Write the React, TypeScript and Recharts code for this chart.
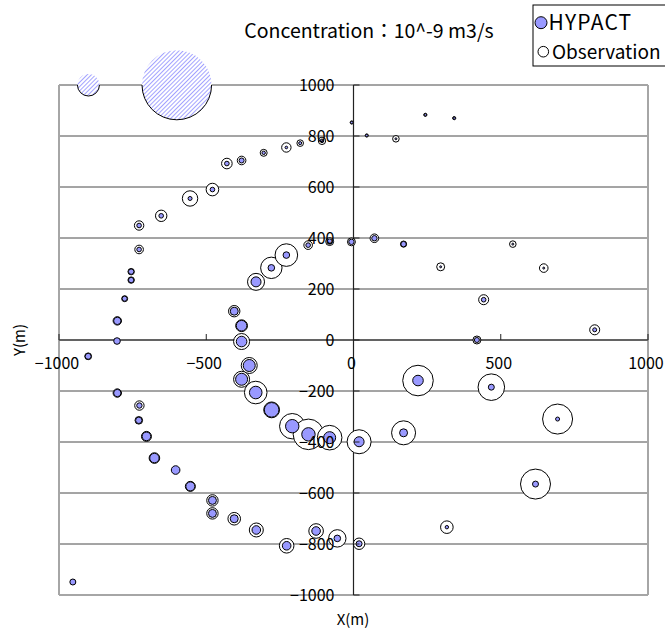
import React from 'react';
import {
  ScatterChart,
  Scatter,
  XAxis,
  YAxis,
  ZAxis,
  ReferenceLine,
  ReferenceDot,
} from 'recharts';

// sampling locations (m)
const locX = [
  -901, -803, -802, -777, -755, -755, -728, -728, -653, -555, -479, -430, -380, -305, -228, -181, -107, -6, 45, 144, 244, 342,
  -331, -279, -228, -154, -81, -7, 71, 170, 296, 541, 646, 442, 419, 819,
  -405, -380, -380, -354, -380, -332, -278, -208, -153, -81, 19, 170, 219, 468, 693, 618, 317,
  -802, -727, -729, -703, -676, -604, -554, -479, -479, -405, -330, -227, -127, -55, 19, -953,
];
const locY = [
  -64, -4, 75, 162, 268, 235, 355, 449, 487, 555, 590, 692, 704, 734, 755, 772, 781, 853, 802, 789, 883, 870,
  228, 283, 333, 372, 386, 385, 399, 376, 287, 376, 282, 158, 0, 40,
  113, 56, -6, -100, -154, -206, -274, -338, -370, -383, -399, -364, -159, -185, -310, -565, -734,
  -208, -257, -315, -378, -463, -510, -574, -629, -680, -701, -745, -807, -749, -778, -799, -949,
];

// concentration, 10^-9 m3/s
const hypact = [
  0.074, 0.09, 0.113, 0.052, 0.06, 0.06, 0.044, 0.044, 0.044, 0.033, 0.044, 0.044, 0.052, 0.024, 0.014, 0.019, 0.027, 0.012, 0.012, 0.008, 0.012, 0.012,
  0.207, 0.09, 0.09, 0.044, 0.06, 0.06, 0.06, 0.06, 0.008, 0.008, 0.008, 0.044, 0.052, 0.033,
  0.132, 0.232, 0.232, 0.298, 0.298, 0.328, 0.44, 0.371, 0.371, 0.298, 0.207, 0.132, 0.232, 0.074, 0.033, 0.074, 0.024,
  0.113, 0.06, 0.085, 0.153, 0.183, 0.153, 0.167, 0.132, 0.132, 0.132, 0.153, 0.153, 0.153, 0.09, 0.074, 0.074,
];
const observation = [
  0.096, 0.052, 0.146, 0.074, 0.085, 0.085, 0.153, 0.183, 0.269, 0.49, 0.328, 0.232, 0.153, 0.101, 0.183, 0.09, 0.113, 0.021, 0.021, 0.09, 0.021, 0.021,
  0.597, 0.946, 1.055, 0.153, 0.132, 0.132, 0.153, 0.079, 0.132, 0.09, 0.153, 0.207, 0.132, 0.207,
  0.269, 0.288, 0.529, 0.529, 0.529, 1.055, 0.516, 1.33, 1.93, 1.25, 1.19, 1.19, 1.93, 1.46, 1.86, 1.86, 0.328,
  0.146, 0.183, 0.119, 0.207, 0.232, 0.101, 0.207, 0.269, 0.269, 0.328, 0.405, 0.44, 0.44, 0.626, 0.269, 0.052,
];

// size reference bubbles (1 and 10)
const refX = [-900, -600];
const refY = [1000, 1000];
const refZ = [1, 10];

const xTicks = [-1000, -500, 0, 500, 1000];
const yTicks = [-1000, -800, -600, -400, -200, 0, 200, 400, 600, 800, 1000];

const hypactData = locX.map((x, i) => ({ x, y: locY[i], z: hypact[i] }));
const obsData = locX.map((x, i) => ({ x, y: locY[i], z: observation[i] }));
const refData = refX.map((x, i) => ({ x, y: refY[i], z: refZ[i] }));

const FONT = "'Noto Sans CJK JP', sans-serif";
const BUBBLE = '#9999FF';
const fmt = (v: number) => (v < 0 ? '\u2212' + Math.abs(v) : String(v));

// hatched bubble, outline only below its centre like the original
const RefBubble = (p: any) => {
  const r = p.size ? Math.sqrt(p.size / Math.PI) : p.width / 2;
  return (
    <g>
      <circle cx={p.cx} cy={p.cy} r={r} fill="url(#hatch)" />
      <path
        d={`M${p.cx - r},${p.cy} A${r},${r} 0 0 0 ${p.cx + r},${p.cy}`}
        fill="none"
        stroke="#000"
        strokeWidth={1}
      />
    </g>
  );
};

export default function App() {
  return (
    <div style={{ position: 'absolute', left: 0, top: 0, width: 665, height: 628, background: '#fff', fontFamily: FONT }}>
      <ScatterChart width={665} height={628} margin={{ top: 85, right: 17, bottom: 33, left: 59 }}>
        <defs>
          <pattern id="hatch" patternUnits="userSpaceOnUse" width={3} height={3} patternTransform="rotate(45)">
            <rect width={3} height={3} fill="#fff" />
            <line x1={0} y1={0} x2={0} y2={3} stroke="#8c8cff" strokeWidth={1.6} />
          </pattern>
        </defs>
        <XAxis type="number" dataKey="x" domain={[-1000, 1000]} ticks={xTicks} hide />
        <YAxis type="number" dataKey="y" domain={[-1000, 1000]} ticks={yTicks} hide />
        <ZAxis type="number" dataKey="z" domain={[0, 10]} range={[0, Math.PI * 1210]} />

        {yTicks.map((v) => (
          <ReferenceLine key={'g' + v} y={v} stroke="#4a4a4a" strokeWidth={1} />
        ))}
        <ReferenceLine x={-1000} stroke="#a6a6a6" strokeWidth={2} />
        <ReferenceLine x={1000} stroke="#a6a6a6" strokeWidth={2} />
        <ReferenceLine y={-1000} stroke="#a6a6a6" strokeWidth={2} />

        <Scatter name="Reference" data={refData} shape={RefBubble} isAnimationActive={false} />
        <Scatter name="Observation" data={obsData} fill="#fff" stroke="#000" strokeWidth={1} isAnimationActive={false} />
        <Scatter name="HYPACT" data={hypactData} fill={BUBBLE} stroke="#000" strokeWidth={1} isAnimationActive={false} />

        <ReferenceLine x={0} stroke="#222" strokeWidth={1.2} />
        <ReferenceLine y={0} stroke="#222" strokeWidth={1.2} />

        {xTicks.map((v) => (
          <ReferenceDot
            key={'xt' + v}
            x={v}
            y={0}
            r={0}
            ifOverflow="visible"
            shape={(p: any) => (
              <g>
                {v !== 0 && <line x1={p.cx} y1={p.cy} x2={p.cx} y2={p.cy - 6} stroke="#222" />}
                <text x={p.cx - 2} y={p.cy + 29} textAnchor="middle" fontSize={16} fill="#000" fontFamily={FONT}>
                  {fmt(v)}
                </text>
              </g>
            )}
          />
        ))}
        {yTicks.map((v) => (
          <ReferenceDot
            key={'yt' + v}
            x={0}
            y={v}
            r={0}
            ifOverflow="visible"
            shape={(p: any) => (
              <g>
                <line x1={p.cx} y1={p.cy} x2={p.cx + 6} y2={p.cy} stroke="#222" />
                <text x={p.cx - 19} y={p.cy + 6} textAnchor="end" fontSize={16} fill="#000" fontFamily={FONT}>
                  {fmt(v)}
                </text>
              </g>
            )}
          />
        ))}
      </ScatterChart>

      <svg width={665} height={628} style={{ position: 'absolute', left: 0, top: 0, pointerEvents: 'none' }}>
        <text x={369} y={38} textAnchor="middle" fontSize={19.5} fontFamily={FONT}>
          Concentration：10^-9 m3/s
        </text>
        <rect x={533} y={5} width={140} height={61} fill="#fff" stroke="#000" strokeWidth={1} />
        <circle cx={541} cy={22.7} r={6} fill={BUBBLE} stroke="#000" />
        <text x={548.5} y={30} fontSize={21} letterSpacing={1.2} fontFamily={FONT}>HYPACT</text>
        <circle cx={543.3} cy={51.7} r={5.3} fill="#fff" stroke="#000" />
        <text x={552} y={58.5} fontSize={19} fontFamily={FONT}>Observation</text>
        <text x={353} y={625} textAnchor="middle" fontSize={15} fontFamily={FONT}>X(m)</text>
        <text x={25} y={340} textAnchor="middle" fontSize={15} fontFamily={FONT} transform="rotate(-90 25 340)">
          Y(m)
        </text>
      </svg>
    </div>
  );
}
